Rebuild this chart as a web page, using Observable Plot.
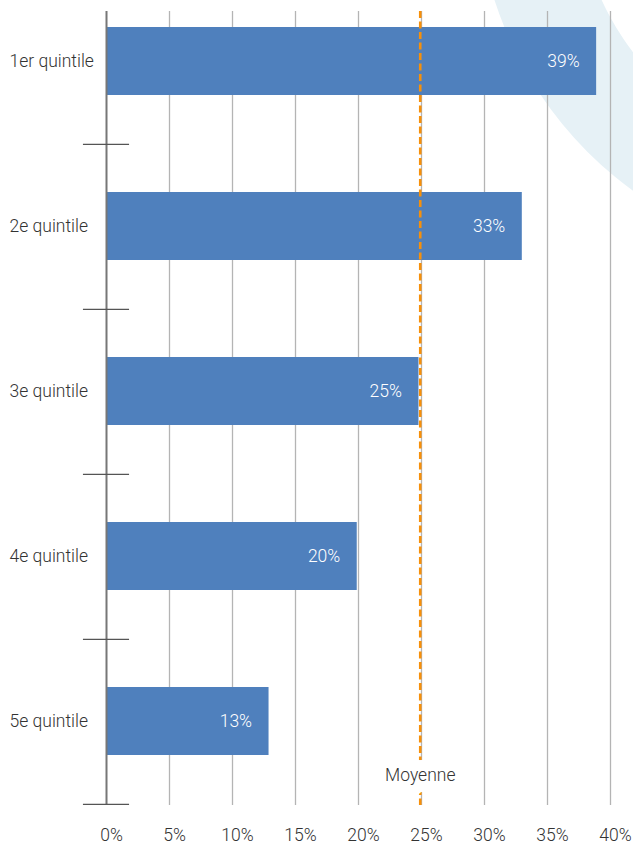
<!DOCTYPE html>
<html>
<head>
<meta charset="utf-8">
<script src="https://cdn.jsdelivr.net/npm/d3@7"></script>
<script src="https://cdn.jsdelivr.net/npm/@observablehq/plot@0.6"></script>
<style>
  html, body { margin: 0; padding: 0; background: #fff; }
  #chart svg { display: block; overflow: hidden; }
</style>
</head>
<body>
<div id="chart"></div>
<script>
const categories = ["1er quintile", "2e quintile", "3e quintile", "4e quintile", "5e quintile"];
const values = [38.9, 33.0, 24.8, 19.9, 12.9];
const labels = ["39%", "33%", "25%", "20%", "13%"];
const average = 24.9;
const averageLabel = "Moyenne";
const xTicks = [0, 5, 10, 15, 20, 25, 30, 35, 40];
const xTickLabels = ["0%", "5%", "10%", "15%", "20%", "25%", "30%", "35%", "40%"];

const data = categories.map((c, i) => ({cat: c, value: values[i], label: labels[i]}));

const W = 633, H = 847;
const yRange = [-24, 805];
const step = (yRange[1] - yRange[0]) / categories.length;
const FONT = "Roboto, 'DejaVu Sans Condensed', sans-serif";
const FS = 17.5;

const chart = Plot.plot({
  width: W,
  height: H,
  marginLeft: 106,
  marginRight: 23,
  marginTop: 11,
  marginBottom: 42,
  style: {fontFamily: FONT, fontSize: FS + "px", fontWeight: 300, color: "#3a3a3a", background: "transparent"},
  x: {domain: [0, 40], axis: null},
  y: {domain: categories, range: yRange, paddingInner: 0.59, paddingOuter: 0.295, axis: null},
  marks: [
    Plot.ruleX(xTicks.filter(d => d > 0), {stroke: "#b4b4b4", strokeWidth: 1.3}),
    Plot.barX(data, {x: "value", y: "cat", fill: "#4f80bd", insetLeft: 1}),
    Plot.ruleX([0], {stroke: "#777", strokeWidth: 2}),
    Plot.ruleY(categories, {y: d => d, dy: step / 2, x1: -1.83, x2: 1.83, stroke: "#555", strokeWidth: 1.4}),
    Plot.ruleX([average], {stroke: "#f7900a", strokeWidth: 2.6, strokeDasharray: "7,3.5"}),
    Plot.text([average], {x: d => d, frameAnchor: "bottom", dy: -25, text: () => averageLabel,
      fill: "#333", stroke: "white", strokeWidth: 22, paintOrder: "stroke", fontSize: FS}),
    Plot.text(data, {x: "value", y: "cat", text: "label", textAnchor: "end", dx: -17, fill: "white", fontSize: FS}),
    Plot.text(data, {y: "cat", frameAnchor: "left", dx: -97, text: "cat", textAnchor: "start", fill: "#333", fontSize: FS}),
    Plot.text(xTicks, {x: d => d, frameAnchor: "bottom", dy: 35, dx: 5, text: (d, i) => xTickLabels[i], fill: "#333", fontSize: FS})
  ]
});

// decorative light-blue ring behind the chart
const svg = d3.select(chart);
const arc = d3.arc().innerRadius(280).outerRadius(380).startAngle(0).endAngle(2 * Math.PI);
svg.insert("path", ":first-child")
  .attr("d", arc())
  .attr("transform", "translate(856,-117)")
  .attr("fill", "#e6f1f6");

document.getElementById("chart").appendChild(chart);
</script>
</body>
</html>
